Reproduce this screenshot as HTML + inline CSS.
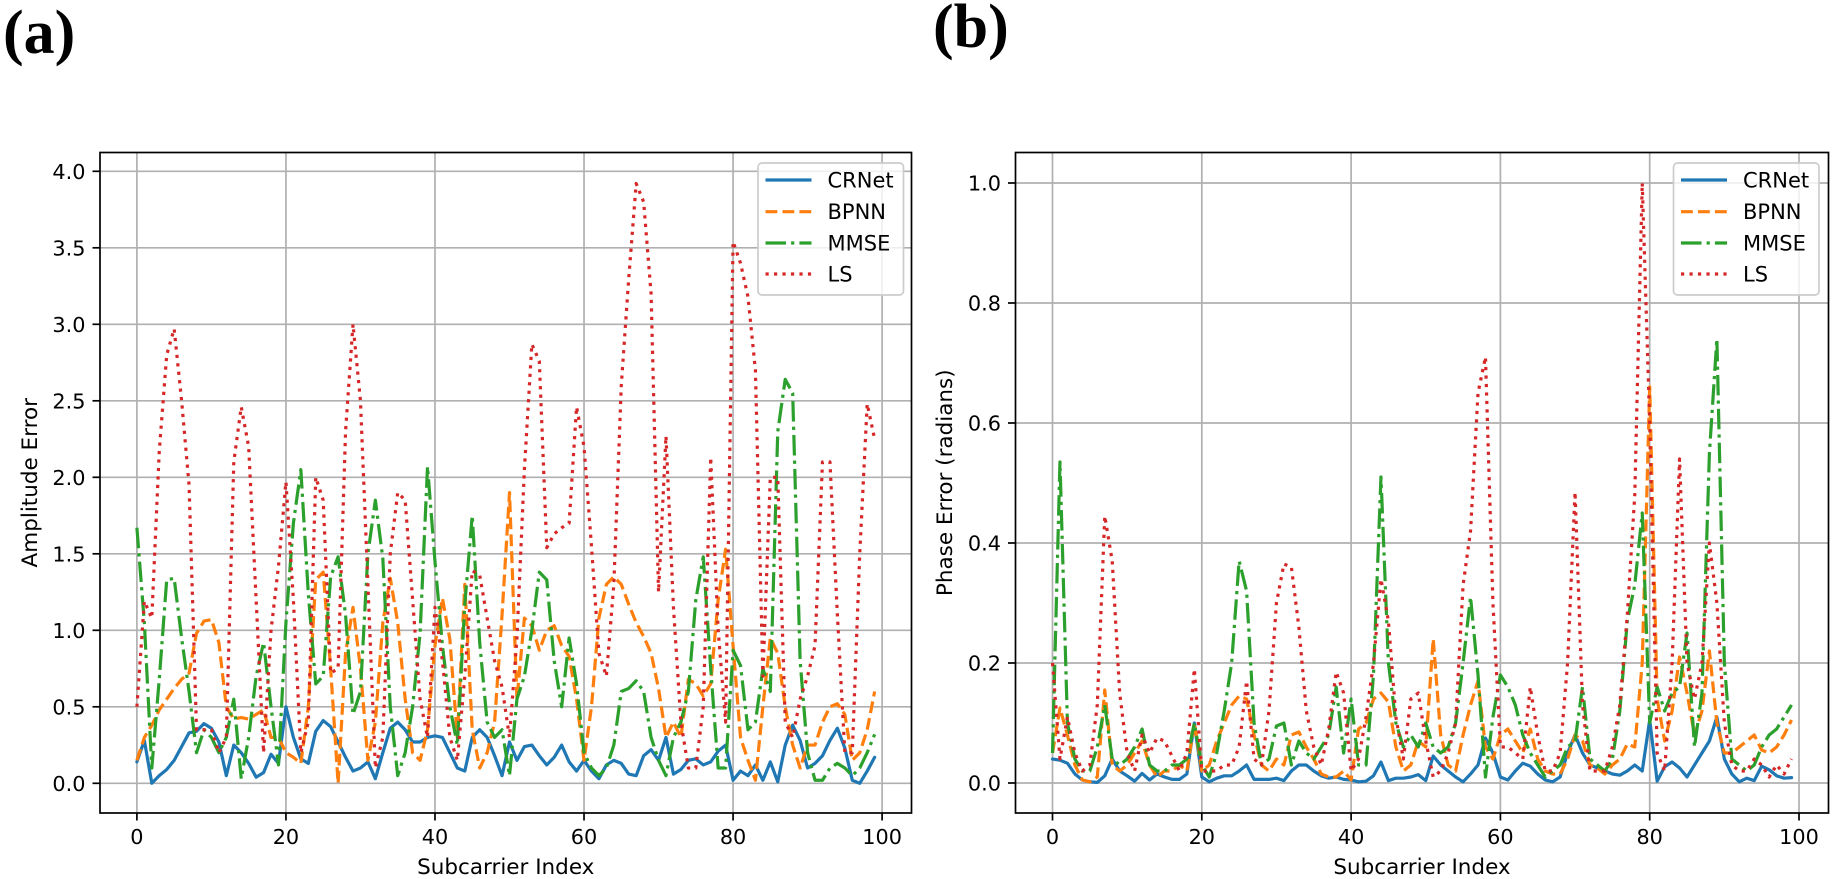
<!DOCTYPE html>
<html>
<head>
<meta charset="utf-8">
<title>Amplitude and phase error by subcarrier</title>
<style>
html,body{margin:0;padding:0;background:#fff;}
body{width:1835px;height:879px;overflow:hidden;}
svg{display:block;}
text{font-family:"DejaVu Sans",sans-serif;fill:#000;}
.panel-tag{font-family:"Liberation Serif",serif;font-weight:bold;font-size:62px;}
</style>
</head>
<body>
<svg id="fig" xmlns="http://www.w3.org/2000/svg" width="1835" height="879" viewBox="0 0 1835 879">
<text class="panel-tag" x="3" y="53">(a)</text>
<text class="panel-tag" x="933" y="47">(b)</text>
</svg>
<script>
var seriesNames = ["CRNet","BPNN","MMSE","LS"];
var xTicks = [0,20,40,60,80,100];
var amplitudeTicks = ["0.0","0.5","1.0","1.5","2.0","2.5","3.0","3.5","4.0"];
var phaseTicks = ["0.0","0.2","0.4","0.6","0.8","1.0"];

var ampCRNet = [
.14,.28,0,.05,.09,.15,.24,.33,.34,.39,
.36,.27,.05,.25,.2,.13,.04,.07,.19,.13,
.5,.3,.16,.13,.34,.41,.37,.27,.17,.08,
.1,.14,.03,.2,.36,.4,.35,.27,.27,.3,
.31,.3,.2,.1,.08,.3,.35,.3,.18,.05,
.27,.15,.24,.25,.18,.12,.17,.25,.14,.08,
.15,.08,.03,.12,.15,.13,.06,.05,.18,.22,
.15,.3,.06,.09,.15,.16,.12,.14,.21,.25,
.02,.08,.05,.12,.02,.14,.01,.25,.38,.28,
.1,.13,.18,.28,.36,.23,.02,0,.08,.17];
var ampBPNN = [
.15,.3,.38,.48,.55,.62,.68,.72,.98,1.06,
1.07,.92,.5,.42,.43,.42,.45,.48,.3,.3,
.2,.17,.13,.5,1.33,1.38,.75,0,.85,1.15,
.75,.15,.4,1.05,1.34,1.05,.55,.2,.15,.35,
.9,1.21,.94,.3,1.3,.35,.1,.2,.4,1.1,
1.9,.55,1.08,1.03,.87,1,1.03,.9,.83,.55,
.15,.5,1.08,1.3,1.35,1.3,1.17,1.05,.96,.85,
.62,.3,.4,.3,.68,.65,.57,.65,1.2,1.53,
.9,.3,.15,.02,.5,.95,.85,.5,.25,.1,
.25,.25,.4,.5,.52,.45,.15,.2,.35,.6];
var ampMMSE = [
1.67,1.05,.1,.68,1.33,1.34,.95,.6,.2,.35,
.3,.2,.3,.55,.03,.3,.7,.92,.5,.12,
1.05,1.7,2.05,1.24,.65,.7,1.35,1.48,1.1,.45,
.6,1.5,1.85,1.47,.5,.05,.2,.5,.98,2.07,
1.45,.9,.5,.25,1.17,1.75,.92,.4,.3,.35,
.05,.55,.7,1,1.38,1.33,.8,.5,.95,.65,
.2,.1,.05,.1,.25,.6,.62,.67,.6,.3,
.15,.05,.3,.4,.6,1.2,1.48,.75,.1,.1,
.87,.77,.35,.4,.75,.6,2.3,2.64,2.55,.8,
.2,.02,.02,.1,.13,.1,.05,.1,.2,.32];
var ampLS = [
.5,1.19,1.08,2.17,2.8,2.97,2.5,1.95,.35,.35,
.35,.2,.3,2.1,2.46,2.2,1.2,.2,1,1.42,
1.97,1.2,.2,.4,2,1.85,.72,.75,2.3,3,
2.5,1.3,.1,.3,1.5,1.9,1.85,1.2,.55,.3,
1.15,.8,.3,.15,.7,1.39,1.36,1.08,.8,.63,
.3,.95,2.05,2.87,2.76,1.54,1.63,1.67,1.7,2.46,
2.2,1.55,.85,.7,1.3,2.6,3.3,3.92,3.8,3.2,
1.25,2.27,1.15,.4,.1,.1,.5,2.13,1,.4,
3.54,3.4,3.18,2.7,.7,2,2,.4,.3,.55,
.7,.9,2.1,2.1,1.1,.2,.2,1.5,2.48,2.25];

var phaseCRNet = [
.04,.038,.033,.015,.005,.002,.001,.012,.04,.02,
.012,.003,.016,.005,.015,.01,.006,.006,.015,.1,
.01,.002,.008,.012,.012,.02,.03,.006,.006,.006,
.008,.004,.02,.03,.03,.02,.012,.008,.01,.006,
.005,.002,.003,.012,.035,.004,.008,.008,.01,.014,
.004,.045,.03,.02,.01,.002,.015,.03,.075,.05,
.01,.005,.02,.033,.028,.015,.005,.002,.01,.05,
.08,.05,.03,.025,.02,.015,.013,.02,.03,.02,
.105,.003,.027,.035,.025,.01,.03,.05,.07,.11,
.04,.015,.002,.008,.004,.028,.022,.012,.008,.009];
var phaseBPNN = [
.05,.125,.08,.03,.005,.002,.01,.155,.03,.02,
.03,.05,.07,.03,.01,.02,.02,.03,.02,.1,
.02,.03,.07,.1,.13,.145,.14,.08,.03,.02,
.04,.03,.08,.085,.06,.04,.015,.01,.01,.02,
.005,.09,.1,.14,.15,.135,.06,.02,.03,.07,
.06,.24,.08,.03,.02,.08,.13,.17,.06,.04,
.08,.09,.07,.05,.09,.04,.02,.015,.015,.04,
.08,.07,.03,.025,.015,.03,.04,.065,.06,.2,
.66,.14,.07,.12,.21,.15,.08,.12,.22,.1,
.05,.05,.06,.07,.08,.055,.05,.06,.08,.105];
var phaseMMSE = [
.05,.535,.1,.04,.02,.02,.06,.13,.04,.03,
.04,.06,.09,.03,.02,.02,.03,.03,.04,.1,
.03,.01,.05,.12,.2,.37,.32,.1,.03,.04,
.095,.1,.03,.07,.05,.04,.06,.08,.16,.05,
.14,.03,.03,.18,.51,.2,.1,.06,.08,.06,
.1,.06,.05,.06,.1,.2,.31,.18,.01,.11,
.18,.16,.13,.08,.05,.03,.01,.02,.03,.06,
.07,.16,.04,.03,.02,.04,.12,.27,.33,.45,
.1,.16,.12,.15,.16,.25,.06,.15,.55,.74,
.2,.04,.03,.02,.03,.06,.08,.09,.11,.13];
var phaseLS = [
.2,.04,.11,.05,.02,.03,.13,.445,.37,.15,
.05,.02,.08,.05,.075,.07,.045,.02,.05,.19,
.02,.02,.02,.03,.03,.06,.17,.04,.03,.12,
.3,.365,.36,.26,.12,.06,.03,.09,.185,.15,
.02,.04,.11,.2,.34,.27,.11,.04,.14,.15,
.07,.01,.02,.05,.1,.33,.42,.65,.71,.3,
.06,.06,.05,.04,.16,.08,.02,.02,.05,.2,
.485,.13,.02,.02,.02,.06,.13,.28,.48,1,
.6,.05,.02,.2,.54,.2,.14,.2,.4,.3,
.1,.03,.02,.02,.04,.03,.01,.03,.015,.04];

var SVGNS = "http://www.w3.org/2000/svg";
var fig = document.getElementById("fig");
var COLORS = ["#1f77b4","#ff7f0e","#2ca02c","#d62728"];
var LW = 3.2;
var DASHES = ["", (3.7*LW)+" "+(1.6*LW), (6.4*LW)+" "+(1.6*LW)+" "+(1*LW)+" "+(1.6*LW), (1*LW)+" "+(1.65*LW)];

function make(tag, attrs, parent) {
  var el = document.createElementNS(SVGNS, tag);
  for (var k in attrs) { el.setAttribute(k, attrs[k]); }
  parent.appendChild(el);
  return el;
}

function drawPanel(cfg) {
  var g = make("g", {}, fig);
  
  
  var x = function (i) { return cfg.x0 + i * cfg.xs; };
  var y = function (v) { return cfg.y0 - v * cfg.ys; };

  xTicks.forEach(function (t) {
    var grid = make("line", {x1:x(t), x2:x(t), y1:cfg.top, y2:cfg.bottom, stroke:"#b0b0b0", "stroke-width":1.7}, g);
    
    
    var tick = make("line", {x1:x(t), x2:x(t), y1:cfg.bottom, y2:cfg.bottom+7.5, stroke:"#000", "stroke-width":1.7}, g);
    
    
    var lab = make("text", {x:x(t), y:844, "text-anchor":"middle", "font-size":20.8}, g);
    
    
    lab.textContent = String(t);
  });
  cfg.yTicks.forEach(function (s) {
    var v = parseFloat(s);
    var grid = make("line", {x1:cfg.left, x2:cfg.right, y1:y(v), y2:y(v), stroke:"#b0b0b0", "stroke-width":1.7}, g);
    
    
    var tick = make("line", {x1:cfg.left-7.5, x2:cfg.left, y1:y(v), y2:y(v), stroke:"#000", "stroke-width":1.7}, g);
    
    
    var lab = make("text", {x:cfg.left-14.5, y:y(v)+7.5, "text-anchor":"end", "font-size":20.8}, g);
    
    
    lab.textContent = s;
  });

  cfg.series.forEach(function (vals, s) {
    var pts = vals.map(function (v, i) { return x(i).toFixed(2) + "," + y(v).toFixed(2); }).join(" ");
    var line = make("polyline", {points:pts, fill:"none", stroke:COLORS[s], "stroke-width":LW, "stroke-linejoin":"round", "stroke-linecap":s===0?"round":"butt"}, g);
    if (DASHES[s]) { line.setAttribute("stroke-dasharray", DASHES[s]); }
    
    
  });

  var frame = make("rect", {x:cfg.left, y:cfg.top, width:cfg.right-cfg.left, height:cfg.bottom-cfg.top, fill:"none", stroke:"#000", "stroke-width":1.7}, g);
  
  

  var xt = make("text", {x:(cfg.left+cfg.right)/2, y:874, "text-anchor":"middle", "font-size":21.5}, g);
  
  
  xt.textContent = "Subcarrier Index";
  var cy = (cfg.top+cfg.bottom)/2;
  var yt = make("text", {x:cfg.ylabelX, y:cy, "text-anchor":"middle", "font-size":21.5, transform:"rotate(-90 "+cfg.ylabelX+" "+cy+")"}, g);
  
  
  yt.textContent = cfg.ylabel;

  var lg = make("g", {}, g);
  
  
  var box = make("rect", {x:cfg.legendX, y:163, width:145.5, height:132, rx:4, ry:4, fill:"#fff", "fill-opacity":0.8, stroke:"#cccccc", "stroke-width":1.7}, lg);
  
  
  var rows = [180,211.7,243,274];
  seriesNames.forEach(function (n, s) {
    var sw = make("line", {x1:cfg.legendX+7.5, x2:cfg.legendX+53.5, y1:rows[s], y2:rows[s], stroke:COLORS[s], "stroke-width":LW}, lg);
    if (DASHES[s]) { sw.setAttribute("stroke-dasharray", DASHES[s]); }
    
    
    var t = make("text", {x:cfg.legendX+69.5, y:rows[s]+7.5, "font-size":21}, lg);
    
    
    t.textContent = n;
  });
}

drawPanel({
  name:"amplitude-error-chart", left:100, right:911.5, top:152.5, bottom:813,
  x0:136.9, xs:7.452, y0:783.3, ys:153,
  yTicks:amplitudeTicks, ylabel:"Amplitude Error", ylabelX:37, legendX:758,
  series:[ampCRNet, ampBPNN, ampMMSE, ampLS]
});
drawPanel({
  name:"phase-error-chart", left:1015.5, right:1828.5, top:152.5, bottom:813,
  x0:1052.5, xs:7.465, y0:783, ys:600,
  yTicks:phaseTicks, ylabel:"Phase Error (radians)", ylabelX:952, legendX:1673.5,
  series:[phaseCRNet, phaseBPNN, phaseMMSE, phaseLS]
});
</script>
</body>
</html>
